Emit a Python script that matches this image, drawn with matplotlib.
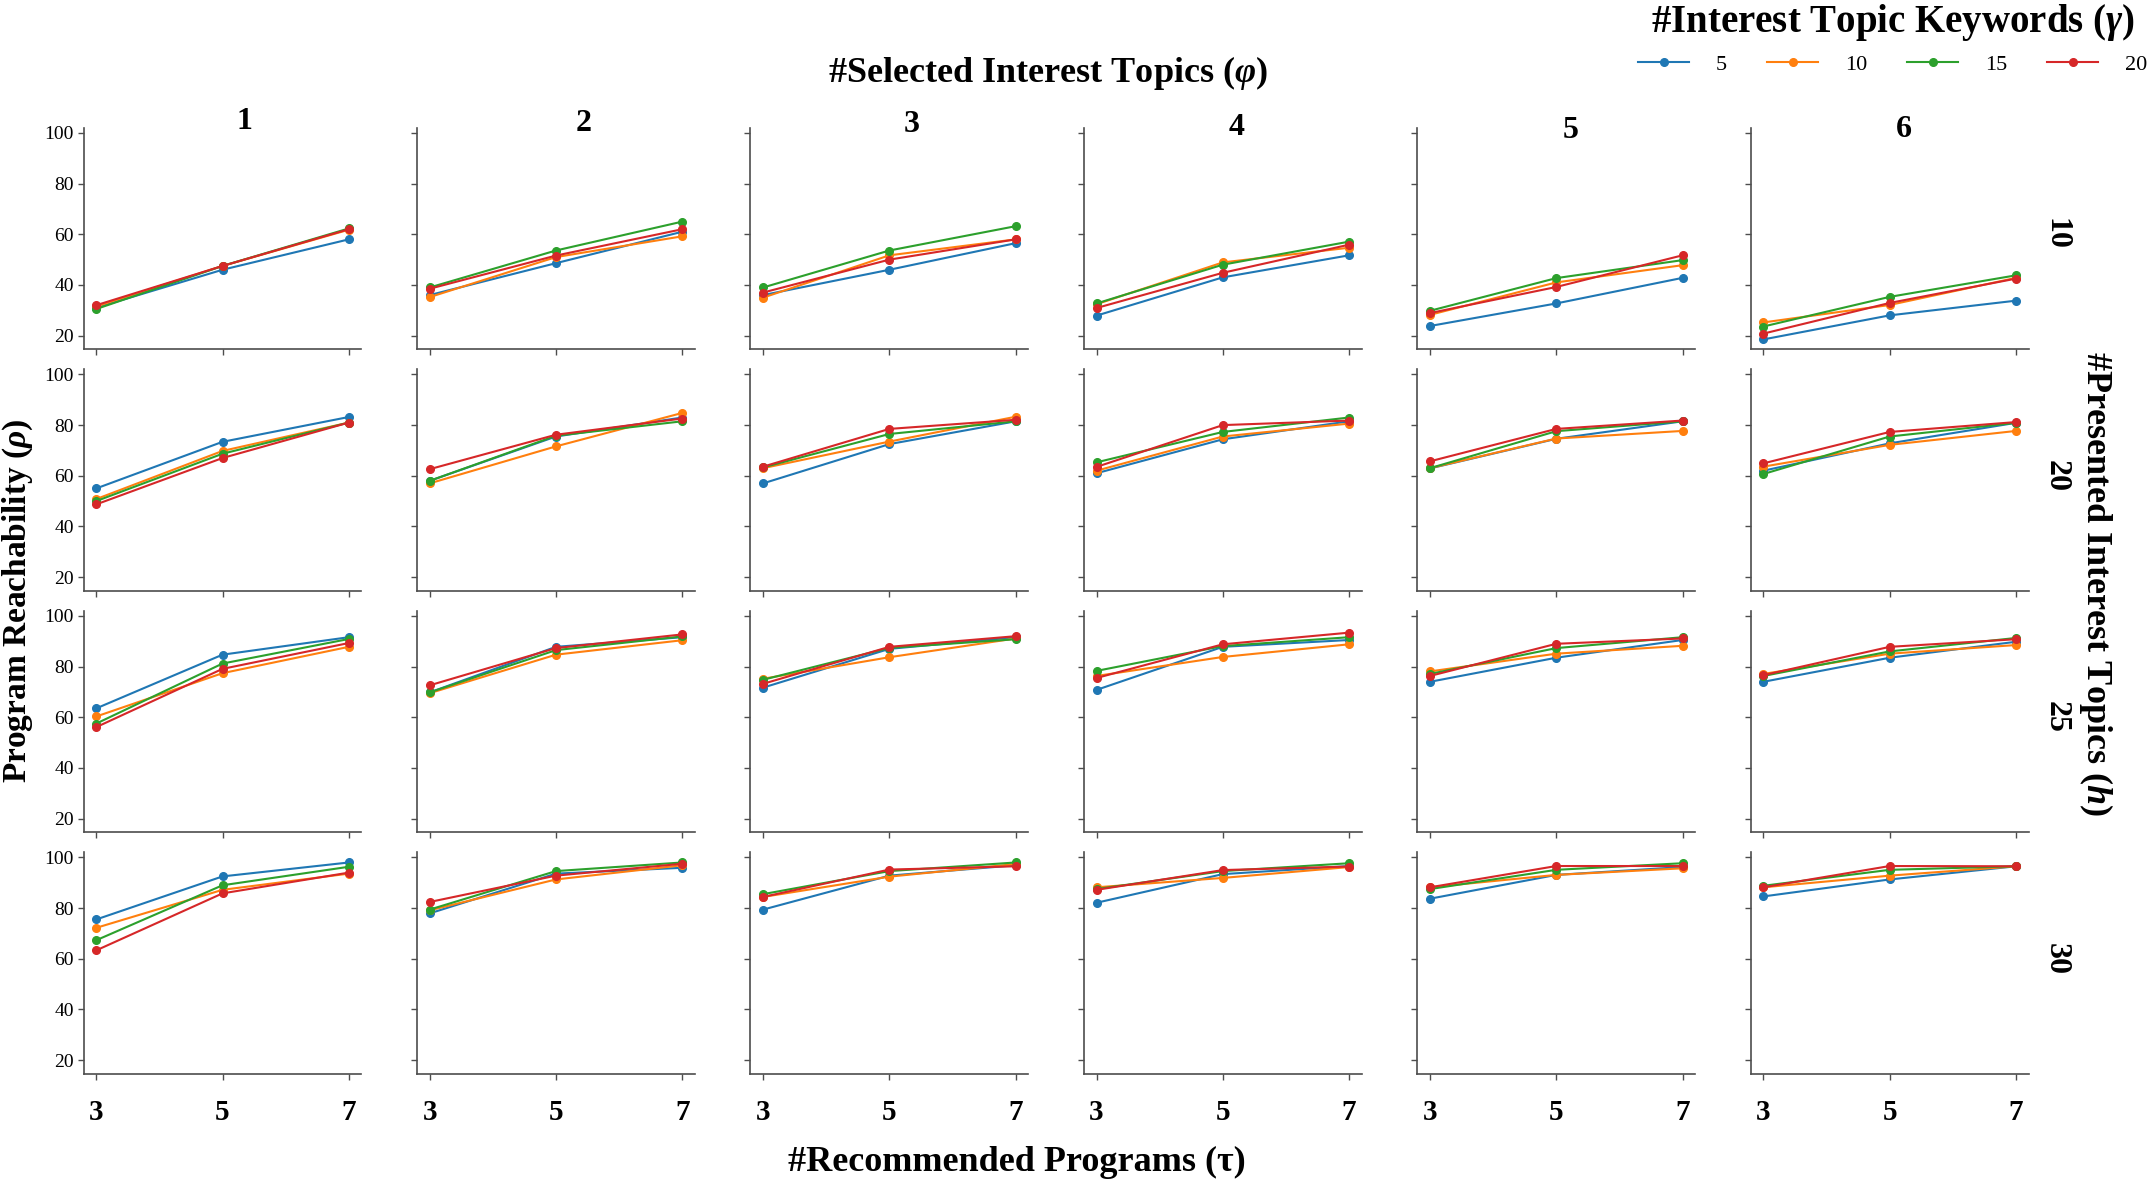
import numpy as np
import matplotlib.pyplot as plt

# axes values
tau = [3, 5, 7]
phi = [1, 2, 3, 4, 5, 6]
h_vals = [10, 20, 25, 30]
gamma = [5, 10, 15, 20]

# program reachability, one list per h; per phi column: gamma 5, 10, 15, 20 (tau = 3, 5, 7)
reach_h10 = [
  [[31.0, 46.0, 58.0], [31.5, 47.5, 61.8], [30.5, 47.5, 62.3], [32.0, 47.5, 62.0]],
  [[36.0, 48.6, 61.0], [35.2, 51.0, 59.2], [39.0, 53.6, 65.0], [38.5, 51.6, 62.0]],
  [[36.0, 46.0, 56.5], [35.0, 51.7, 58.0], [39.0, 53.6, 63.2], [37.0, 50.0, 58.0]],
  [[27.9, 43.0, 51.7], [32.4, 48.9, 54.7], [32.7, 48.0, 57.1], [30.9, 44.8, 55.9]],
  [[23.8, 32.7, 42.8], [28.2, 41.0, 47.8], [29.8, 42.7, 49.8], [28.9, 39.2, 51.7]],
  [[18.5, 28.0, 33.8], [25.2, 32.1, 42.8], [23.6, 35.3, 43.8], [20.8, 32.9, 42.5]],
]
reach_h20 = [
  [[55.0, 73.4, 83.2], [50.8, 69.8, 81.0], [50.0, 68.7, 81.0], [48.7, 67.0, 81.0]],
  [[58.0, 75.5, 83.0], [57.0, 71.6, 84.8], [58.0, 75.8, 81.5], [62.6, 76.2, 82.6]],
  [[57.0, 72.5, 81.5], [63.0, 73.5, 83.3], [63.3, 76.5, 81.5], [63.6, 78.5, 82.1]],
  [[61.0, 74.4, 81.5], [62.0, 75.5, 80.6], [65.3, 77.3, 83.0], [63.5, 80.0, 81.8]],
  [[62.9, 74.6, 81.5], [63.0, 74.7, 77.7], [63.0, 77.6, 81.5], [65.7, 78.5, 81.8]],
  [[62.0, 72.8, 80.9], [63.6, 72.2, 77.7], [60.7, 75.5, 80.9], [64.9, 77.3, 81.2]],
]
reach_h25 = [
  [[63.5, 84.7, 91.6], [60.3, 77.4, 87.8], [57.5, 81.2, 90.9], [56.1, 79.1, 89.3]],
  [[69.8, 87.8, 91.6], [69.5, 84.7, 90.4], [69.8, 86.5, 91.9], [72.6, 87.3, 92.7]],
  [[71.7, 87.0, 91.6], [75.2, 83.7, 91.1], [74.8, 87.4, 90.8], [73.2, 87.8, 92.0]],
  [[70.8, 87.8, 90.5], [76.3, 83.8, 88.8], [78.3, 88.1, 91.6], [75.5, 88.8, 93.4]],
  [[74.0, 83.5, 90.5], [78.1, 85.1, 88.2], [77.1, 87.3, 91.6], [76.3, 89.0, 91.1]],
  [[74.0, 83.5, 89.8], [77.1, 85.1, 88.5], [76.3, 86.0, 91.3], [76.6, 87.8, 90.8]],
]
reach_h30 = [
  [[75.5, 92.5, 98.0], [72.2, 87.2, 93.6], [67.3, 89.0, 96.3], [63.3, 85.8, 94.0]],
  [[77.9, 93.6, 95.9], [79.1, 91.3, 96.9], [79.4, 94.6, 98.0], [82.4, 92.8, 97.5]],
  [[79.4, 92.8, 96.9], [84.4, 92.4, 97.4], [85.5, 94.6, 98.0], [84.4, 95.2, 96.5]],
  [[82.1, 93.4, 96.6], [88.2, 91.9, 96.2], [87.5, 94.6, 97.7], [87.2, 95.0, 96.4]],
  [[83.7, 93.1, 96.2], [88.2, 93.1, 95.7], [87.5, 95.1, 97.7], [88.2, 96.6, 96.6]],
  [[84.6, 91.3, 96.5], [88.2, 92.8, 96.5], [88.8, 95.1, 96.5], [88.2, 96.6, 96.5]],
]
rows = [reach_h10, reach_h20, reach_h25, reach_h30]

colors = ['#1f77b4', '#ff7f0e', '#2ca02c', '#d62728']

plt.rcParams['font.family'] = ['Liberation Serif', 'DejaVu Serif']
plt.rcParams['mathtext.fontset'] = 'custom'
plt.rcParams['mathtext.rm'] = 'Liberation Serif:bold'
plt.rcParams['mathtext.it'] = 'Liberation Serif:bold:italic'
plt.rcParams['mathtext.bf'] = 'Liberation Serif:bold'

fig, axes = plt.subplots(4, 6, sharex=True, sharey=True, figsize=(21.54, 11.88), dpi=100)
fig.subplots_adjust(left=0.0388, right=0.9418, bottom=0.096, top=0.8923,
                    wspace=0.2, hspace=0.09)

# column title offsets (axes fraction)
title_x = [0.58, 0.60, 0.58, 0.55, 0.55, 0.55]
title_y = [1.03, 1.02, 1.015, 1.0, 0.99, 0.995]

for r, data in enumerate(rows):
  for c in range(len(phi)):
    ax = axes[r, c]
    for g in range(len(gamma)):
      ax.plot(tau, data[c][g], marker='o', ms=5.5, lw=1.5, color=colors[g],
              label=str(gamma[g]))
    ax.spines[['top', 'right']].set_visible(False)
    for s in ['left', 'bottom']:
      ax.spines[s].set_color('0.3')
      ax.spines[s].set_linewidth(1.2)
    ax.tick_params(axis='both', color='0.3', length=4, width=1.0)
    ax.tick_params(axis='y', labelsize=14, pad=3)
    ax.tick_params(axis='x', pad=14)
    if r == 0:
      ax.text(title_x[c], title_y[c], str(phi[c]), transform=ax.transAxes,
              ha='center', va='center', fontsize=23, fontweight='bold')
    if c == len(phi) - 1:
      ax.text(1.10, 0.52, str(h_vals[r]), transform=ax.transAxes, rotation=270,
              ha='center', va='center', fontsize=23, fontweight='bold')

axes[0, 0].set_yticks([20, 40, 60, 80, 100])
for ax in axes[-1]:
  ax.set_xticks(tau, labels=[str(t) for t in tau], fontsize=21, fontweight='bold')

# figure labels
fig.text(0.4865, 0.9386, r'#Selected Interest Topics ($\varphi$)', ha='center', va='center',
         fontsize=26, fontweight='bold')
fig.text(0.472, 0.0215, '#Recommended Programs (τ)', ha='center', va='center',
         fontsize=26, fontweight='bold')
fig.text(0.0084, 0.494, r'Program Reachability ($\rho$)', rotation=90, ha='center',
         va='center', fontsize=24, fontweight='bold')
fig.text(0.973, 0.509, r'#Presented Interest Topics ($h$)', rotation=270, ha='center',
         va='center', fontsize=26, fontweight='bold')

handles, labels = axes[0, 0].get_legend_handles_labels()
leg = fig.legend(handles, labels, loc='upper right', bbox_to_anchor=(1.004, 1.011), ncol=4,
                 frameon=False, fontsize=16, handlelength=2.3, handletextpad=1.2,
                 columnspacing=1.8, borderpad=0.2,
                 title=r'#Interest Topic Keywords ($\gamma$)',
                 title_fontproperties={'size': 28, 'weight': 'bold'})

fig.savefig('out.png', dpi=100)
